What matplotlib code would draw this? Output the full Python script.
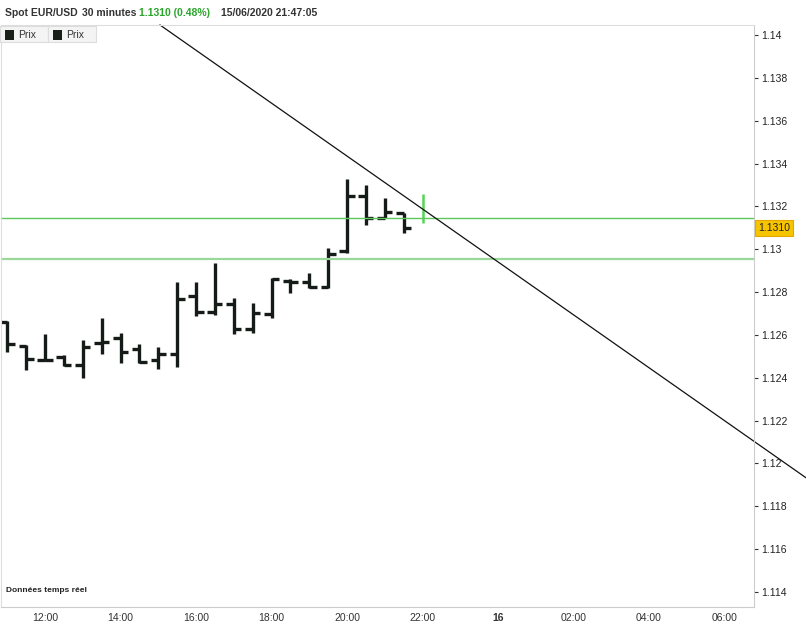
import numpy as np
import matplotlib
matplotlib.use("Agg")
import matplotlib.pyplot as plt
from matplotlib.patches import Rectangle

plt.rcParams['font.family'] = ['Liberation Sans', 'DejaVu Sans']

# 30-minute bars, time in hours from 15/06 00:00
times = [11.0, 11.5, 12.0, 12.5, 13.0, 13.5, 14.0, 14.5, 15.0, 15.5, 16.0,
         16.5, 17.0, 17.5, 18.0, 18.5, 19.0, 19.5, 20.0, 20.5, 21.0, 21.5]
opens = [1.12662, 1.12549, 1.12483, 1.12499, 1.12460, 1.12563, 1.12586, 1.12535,
         1.12483, 1.12511, 1.12782, 1.12707, 1.12745, 1.12628, 1.12698, 1.12852,
         1.12847, 1.12824, 1.12992, 1.13249, 1.13146, 1.13169]
highs = [1.12667, 1.12553, 1.12605, 1.12507, 1.12577, 1.12679, 1.12609, 1.12558,
         1.12544, 1.12847, 1.12847, 1.12936, 1.12773, 1.12749, 1.12866, 1.12861,
         1.12889, 1.13006, 1.13328, 1.13300, 1.13239, 1.13169]
lows = [1.12521, 1.12437, 1.12479, 1.12455, 1.12399, 1.12511, 1.12469, 1.12469,
        1.12441, 1.12451, 1.12689, 1.12693, 1.12605, 1.12609, 1.12679, 1.12796,
        1.12819, 1.12819, 1.12983, 1.13113, 1.13146, 1.13076]
closes = [1.12558, 1.12487, 1.12483, 1.12460, 1.12545, 1.12569, 1.12521, 1.12474,
          1.12511, 1.12768, 1.12707, 1.12745, 1.12628, 1.12703, 1.12861, 1.12847,
          1.12824, 1.12978, 1.13249, 1.13146, 1.13174, 1.13099]

# current (live) bar
live_time = 22.0
live_high = 1.13258
live_low = 1.13123

# drawn lines
level_lines = [1.13145, 1.12955]
trend_times = [15.046, 32.16]
trend_prices = [1.14047, 1.11933]

last_price = 1.1310
y_ticks = [1.114, 1.116, 1.118, 1.12, 1.122, 1.124, 1.126, 1.128, 1.13,
           1.132, 1.134, 1.136, 1.138, 1.14]
x_ticks = [12, 14, 16, 18, 20, 22, 24, 26, 28, 30]
x_labels = ['12:00', '14:00', '16:00', '18:00', '20:00', '22:00', '16',
            '02:00', '04:00', '06:00']

W, H = 806, 626
fig = plt.figure(figsize=(W / 100, H / 100), dpi=100)


def fx(px):
    return px / W


def fy(py):
    return 1 - py / H


ax = fig.add_axes([fx(1), fy(607), fx(754) - fx(1), fy(25) - fy(607)])
ax.set_xlim(10.834, 30.78)
ax.set_ylim(1.11330, 1.14047)

bar_col = '#151b16'
tick = 0.2
ax.vlines(times, lows, highs, color=bar_col, lw=2.4)
ax.hlines(opens, np.array(times) - tick, times, color=bar_col, lw=2.4)
ax.hlines(closes, times, np.array(times) + tick, color=bar_col, lw=2.4)
ax.vlines([live_time], [live_low], [live_high], color='#55d455', lw=1.8)

ax.axhline(level_lines[0], color='#5cc85c', lw=1.0)
ax.axhline(level_lines[1], color='#9ad89a', lw=1.6)
ax.plot(trend_times, trend_prices, color='#111111', lw=0.9, clip_on=False)

for s in ['top', 'left']:
    ax.spines[s].set_color('#dddddd')
ax.spines['right'].set_color('#cccccc')
ax.spines['bottom'].set_color('#cccccc')

ax.yaxis.tick_right()
ax.set_yticks(y_ticks)
ax.set_yticklabels(['%g' % v for v in y_ticks])
ax.tick_params(axis='y', length=3, width=0.8, color='#333333', labelsize=7.5,
               labelcolor='#222222', pad=2)
ax.set_xticks(x_ticks)
ax.set_xticklabels(x_labels)
ax.tick_params(axis='x', length=0, labelsize=7.5, labelcolor='#333333', pad=4)
ax.get_xticklabels()[6].set_fontweight('bold')

ax.annotate('%.4f' % last_price, xy=(1, last_price), xycoords=('axes fraction', 'data'),
            xytext=(3, 0), textcoords='offset points', va='center', ha='left',
            fontsize=7.5, color='#222222', annotation_clip=False,
            bbox=dict(boxstyle='square,pad=0.3', fc='#f7c400', ec='#e3a800', lw=0.8))

ax.text(fx(5) / (fx(754) - fx(1)), 0.025, 'Données temps réel', transform=ax.transAxes,
        fontsize=6, color='#222222', fontweight='bold')

# header
yh = fy(13)
hdr = dict(fontsize=7.5, va='center', fontweight='bold')
fig.text(fx(5), yh, 'Spot EUR/USD', color='#333333', **hdr)
fig.text(fx(82), yh, '30 minutes', color='#333333', **hdr)
fig.text(fx(139), yh, '1.1310 (0.48%)', color='#2aa52a', **hdr)
fig.text(fx(221), yh, '15/06/2020 21:47:05', color='#333333', **hdr)

# legend boxes
for i in range(2):
    x0 = 0 + i * 48
    fig.add_artist(Rectangle((fx(x0), fy(42)), fx(48), fy(26) - fy(42), transform=fig.transFigure,
                             fc='#f4f4f4', ec='#dddddd', lw=0.8))
    fig.add_artist(Rectangle((fx(x0 + 5), fy(40)), fx(9), fy(30) - fy(40), transform=fig.transFigure,
                             fc='#182018', ec='none'))
    fig.text(fx(x0 + 18), fy(34.5), 'Prix', fontsize=7.5, color='#333333', va='center')

fig.savefig('out.png', dpi=100)
